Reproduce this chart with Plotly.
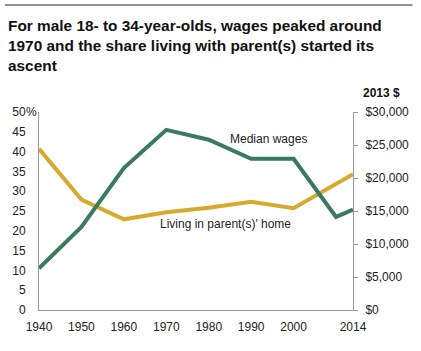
import plotly.graph_objects as go

years_living = [1940, 1950, 1960, 1970, 1980, 1990, 2000, 2014]
living_pct = [40.7, 27.9, 22.9, 24.7, 25.8, 27.3, 25.7, 34.3]

years_wage = [1940, 1950, 1960, 1970, 1980, 1990, 2000, 2010, 2014]
median_wages = [6300, 12600, 21500, 27300, 25800, 22900, 22900, 14100, 15200]

x_ticks = [1940, 1950, 1960, 1970, 1980, 1990, 2000, 2014]
left_ticks = [0, 5, 10, 15, 20, 25, 30, 35, 40, 45, 50]
left_labels = ["0", "5", "10", "15", "20", "25", "30", "35", "40", "45", "50"]
right_ticks = [0, 5000, 10000, 15000, 20000, 25000, 30000]
right_labels = ["$0", "$5,000", "$10,000", "$15,000", "$20,000", "$25,000", "$30,000"]

GREEN = "#3a7a5f"
GOLD = "#d5aa2e"
FONT = "Liberation Sans"

fig = go.Figure()
fig.add_trace(go.Scatter(x=years_living, y=living_pct, mode="lines",
                         line=dict(color=GOLD, width=4), yaxis="y", hoverinfo="skip"))
fig.add_trace(go.Scatter(x=years_wage, y=median_wages, mode="lines",
                         line=dict(color=GREEN, width=4), yaxis="y2", hoverinfo="skip"))

PW, PH = 322, 198

fig.update_layout(
    width=421, height=351,
    margin=dict(l=35, r=64, t=112, b=41),
    paper_bgcolor="white", plot_bgcolor="white",
    showlegend=False,
    font=dict(family=FONT, size=12, color="#222"),
    xaxis=dict(range=[1940, 2014], tickvals=x_ticks, ticktext=[str(v) for v in x_ticks],
               showgrid=False, zeroline=False, showline=True, linecolor="#999",
               linewidth=1, ticks="", ticklabelstandoff=6,
               tickfont=dict(size=12, color="#222")),
    yaxis=dict(range=[0, 50], tickvals=left_ticks, ticktext=left_labels,
               showgrid=False, zeroline=False, showline=True, linecolor="#999",
               linewidth=1, ticks="", ticklabelstandoff=10,
               tickfont=dict(size=12, color="#222")),
    yaxis2=dict(range=[0, 30000], tickvals=right_ticks, ticktext=right_labels,
                overlaying="y", side="right", showgrid=False, zeroline=False,
                showline=True, linecolor="#999", linewidth=1, ticks="outside",
                ticklen=4, tickcolor="#999", ticklabelstandoff=5,
                tickfont=dict(size=12, color="#222")),
    shapes=[dict(type="line", xref="paper", yref="paper", x0=-35/PW, x1=383/PW,
                 y0=(310-5)/PH, y1=(310-5)/PH,
                 line=dict(color="#222", width=1))],
    annotations=[
        dict(xref="paper", yref="paper", x=-34/PW, y=(310-15)/PH,
             xanchor="left", yanchor="top", align="left", showarrow=False,
             text="<b>For male 18- to 34-year-olds, wages peaked around<br>1970 and the share living with parent(s) started its<br>ascent</b>",
             font=dict(family=FONT, size=15.4, color="#111")),
        dict(xref="paper", yref="paper", x=-14/PW, y=1,
             xanchor="left", yanchor="middle", showarrow=False, borderpad=0,
             text="%", font=dict(family=FONT, size=12, color="#222")),
        dict(xref="paper", yref="paper", x=(386-35)/PW, y=(310-93)/PH,
             xanchor="center", yanchor="middle", showarrow=False,
             text="<b>2013 $</b>", font=dict(family=FONT, size=12, color="#111")),
        dict(x=1994, y=25900, xref="x", yref="y2", showarrow=False,
             text="Median wages", font=dict(family=FONT, size=12, color="#222")),
        dict(x=1984, y=21.7, xref="x", yref="y", showarrow=False,
             text="Living in parent(s)' home", font=dict(family=FONT, size=12, color="#222")),
    ],
)

fig.write_html("out.html")
